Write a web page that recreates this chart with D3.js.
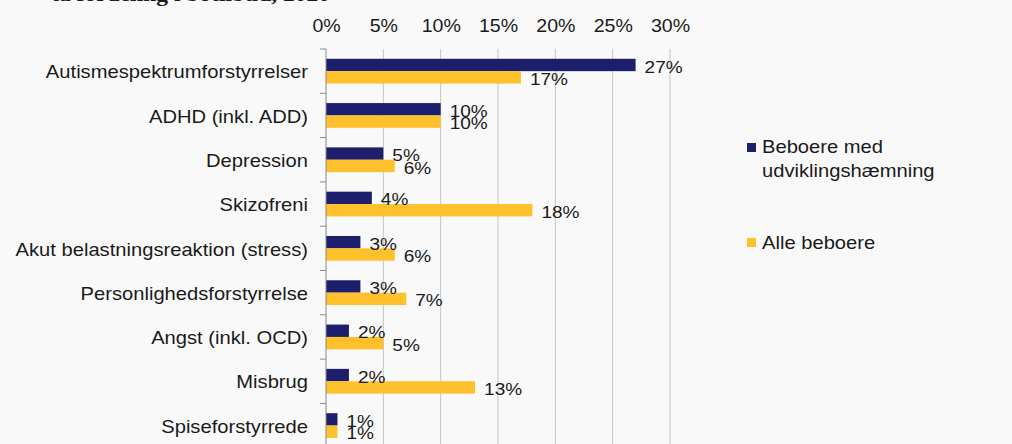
<!DOCTYPE html>
<html>
<head>
<meta charset="utf-8">
<script src="https://cdn.jsdelivr.net/npm/d3@7/dist/d3.min.js"></script>
<style>
  html, body { margin: 0; padding: 0; background: #f9f9f9; }
  svg { display: block; }
  text { font-family: "Liberation Sans", Arial, sans-serif; fill: #1a1a1a; }
</style>
</head>
<body>
<svg id="chart" width="1012" height="444"></svg>
<script>
// Diagnoses among residents, share in percent
const categories = [
  "Autismespektrumforstyrrelser",
  "ADHD (inkl. ADD)",
  "Depression",
  "Skizofreni",
  "Akut belastningsreaktion (stress)",
  "Personlighedsforstyrrelse",
  "Angst (inkl. OCD)",
  "Misbrug",
  "Spiseforstyrrede"
];
const seriesNames = ["Beboere med udviklingshæmning", "Alle beboere"];
const withDisability = [27, 10, 5, 4, 3, 3, 2, 2, 1];
const allResidents   = [17, 10, 6, 18, 6, 7, 5, 13, 1];
const tickValues = [0, 5, 10, 15, 20, 25, 30];
const titleText = "ta fordeling i botilbud, 2020";

const colors = ["#1e1f6c", "#ffc12b"];
const seriesValues = [withDisability, allResidents];

// The drawing is laid out in a horizontally widened frame
const sx = 1.12;
const W = 1012, H = 444;
const plotTop = 49, step = 44.3;

const svg = d3.select("#chart");
svg.append("rect").attr("width", W).attr("height", H).attr("fill", "#f9f9f9");
const g = svg.append("g").attr("transform", `scale(${sx},1)`);

const x = d3.scaleLinear().domain([0, 30]).range([326 / sx, 670 / sx]);
const y = d3.scaleBand().domain(categories).range([plotTop, plotTop + step * categories.length]);
const inner = d3.scaleBand().domain(d3.range(seriesNames.length)).range([0, y.bandwidth()]).paddingOuter(0.79);

// Title (mostly above the top edge)
g.append("text")
  .attr("x", 330 / sx).attr("y", 1)
  .attr("text-anchor", "end")
  .style("font-family", "'Liberation Serif', 'Times New Roman', serif")
  .style("font-weight", "bold")
  .style("font-size", "21px")
  .text(titleText);

// Vertical gridlines
g.append("g").selectAll("line")
  .data(tickValues.filter(d => d > 0))
  .join("line")
  .attr("x1", d => x(d)).attr("x2", d => x(d))
  .attr("y1", plotTop).attr("y2", H + 10)
  .attr("stroke", "#c4c4c4")
  .attr("stroke-width", 1)
  .attr("vector-effect", "non-scaling-stroke");

// Top value axis (labels only)
const xAxis = g.append("g")
  .attr("transform", `translate(0,${plotTop})`)
  .call(d3.axisTop(x).tickValues(tickValues).tickFormat(d => d + "%").tickSize(0).tickPadding(17));
xAxis.select(".domain").remove();
xAxis.selectAll("text").style("font-size", "17.5px").attr("fill", "#1a1a1a");

// Bars
categories.forEach((c, i) => {
  seriesValues.forEach((vals, s) => {
    g.append("rect")
      .attr("x", x(0))
      .attr("y", y(c) + inner(s))
      .attr("width", x(vals[i]) - x(0))
      .attr("height", inner.bandwidth())
      .attr("fill", colors[s]);
  });
});

// Value labels
categories.forEach((c, i) => {
  seriesValues.forEach((vals, s) => {
    g.append("text")
      .attr("x", x(vals[i]) + 9 / sx)
      .attr("y", y(c) + inner(s) + inner.bandwidth() / 2 + 7.6)
      .style("font-size", "17px")
      .text(vals[i] + "%");
  });
});

// Category axis
g.append("line")
  .attr("x1", x(0)).attr("x2", x(0))
  .attr("y1", plotTop).attr("y2", H + 10)
  .attr("stroke", "#8a8a8a").attr("stroke-width", 1)
  .attr("vector-effect", "non-scaling-stroke");
g.append("g").selectAll("line")
  .data(categories)
  .join("line")
  .attr("x1", x(0) - 6 / sx).attr("x2", x(0))
  .attr("y1", d => y(d)).attr("y2", d => y(d))
  .attr("stroke", "#8a8a8a").attr("stroke-width", 1)
  .attr("vector-effect", "non-scaling-stroke");

const yAxis = g.append("g")
  .attr("transform", `translate(${x(0)},0)`)
  .call(d3.axisLeft(y).tickSize(0).tickPadding(18 / sx));
yAxis.select(".domain").remove();
yAxis.selectAll("text").style("font-size", "18px").attr("fill", "#1a1a1a").attr("dy", "0.4em");

// Legend
const legend = g.append("g");
const legendRows = [
  { lines: ["Beboere med", "udviklingshæmning"], sq: 143, base: 153.3 },
  { lines: ["Alle beboere"], sq: 238, base: 249 }
];
legendRows.forEach((row, s) => {
  legend.append("rect")
    .attr("x", 747 / sx).attr("y", row.sq)
    .attr("width", 9 / sx).attr("height", 9)
    .attr("fill", colors[s]);
  const t = legend.append("text")
    .attr("x", 762 / sx).attr("y", row.base)
    .style("font-size", "18px");
  row.lines.forEach((ln, k) => {
    t.append("tspan").attr("x", 762 / sx).attr("dy", k === 0 ? 0 : 24).text(ln);
  });
});
</script>
</body>
</html>
